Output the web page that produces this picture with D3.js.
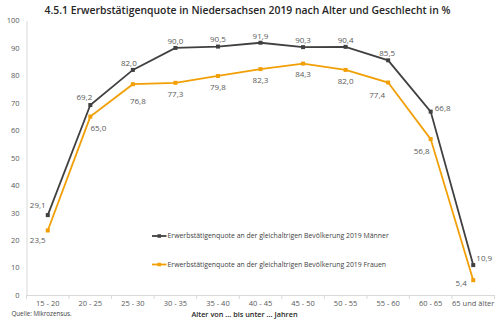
<!DOCTYPE html>
<html>
<head>
<meta charset="utf-8">
<script src="https://cdn.jsdelivr.net/npm/d3@7"></script>
<style>
  html, body { margin: 0; padding: 0; background: #fff; }
  svg { display: block; }
  text { font-family: "Open Sans", "Noto Sans", sans-serif; }
</style>
</head>
<body>
<svg id="chart" width="500" height="321"></svg>
<script>
// Altersgruppen und Erwerbstätigenquoten (in %)
const ageGroups = ["15 - 20", "20 - 25", "25 - 30", "30 - 35", "35 - 40", "40 - 45",
                   "45 - 50", "50 - 55", "55 - 60", "60 - 65", "65 und älter"];
const men   = [29.1, 69.2, 82.0, 90.0, 90.5, 91.9, 90.3, 90.4, 85.5, 66.8, 10.9];
const women = [23.5, 65.0, 76.8, 77.3, 79.8, 82.3, 84.3, 82.0, 77.4, 56.8, 5.4];
const yTicks = [0, 10, 20, 30, 40, 50, 60, 70, 80, 90, 100];
const seriesNames = [
  "Erwerbstätigenquote an der gleichaltrigen Bevölkerung 2019 Männer",
  "Erwerbstätigenquote an der gleichaltrigen Bevölkerung 2019 Frauen"
];
const title = "4.5.1 Erwerbstätigenquote in Niedersachsen 2019 nach Alter und Geschlecht in %";

const svg = d3.select("#chart");
const fmt = v => d3.format(".1f")(v).replace(".", ",");

const x = d3.scaleBand().domain(ageGroups).range([26.5, 494.5]).padding(0);
const y = d3.scaleLinear().domain([0, 100]).range([295, 20.5]);
const cx = d => x(d) + x.bandwidth() / 2;

// Titel
svg.append("text")
  .attr("x", 247.5).attr("y", 13.5)
  .attr("text-anchor", "middle")
  .attr("font-size", 10.4).attr("font-weight", 600)
  .attr("fill", "#262626")
  .text(title);

// Y-Achse
const yAxis = svg.append("g").attr("transform", "translate(26.5,0)")
  .call(d3.axisLeft(y).tickValues(yTicks).tickSize(0).tickPadding(7));
yAxis.select(".domain").attr("stroke", "#d9d9d9");
yAxis.selectAll("text").attr("font-size", 7.5).attr("fill", "#595959")
  .style("font-family", "'Open Sans', sans-serif");

// X-Achse
const xAxis = svg.append("g").attr("transform", "translate(0,295)")
  .call(d3.axisBottom(x).tickSize(0).tickPadding(6));
xAxis.select(".domain").attr("stroke", "#d9d9d9");
xAxis.selectAll("text").attr("font-size", 7.5).attr("fill", "#595959")
  .style("font-family", "'Open Sans', sans-serif");
// Trennstriche zwischen den Kategorien
const bounds = ageGroups.map(d => x(d)).concat([x(ageGroups[ageGroups.length - 1]) + x.bandwidth()]);
svg.append("g").selectAll("line").data(bounds).join("line")
  .attr("x1", d => d).attr("x2", d => d)
  .attr("y1", 295).attr("y2", 299)
  .attr("stroke", "#d9d9d9");

// Achsentitel und Quelle
svg.append("text")
  .attr("x", 244.5).attr("y", 316.5)
  .attr("text-anchor", "middle")
  .attr("font-size", 7.3).attr("font-weight", 600)
  .attr("fill", "#262626")
  .text("Alter von ... bis unter ... Jahren");
svg.append("text")
  .attr("x", 11.5).attr("y", 316)
  .attr("font-size", 6.2).attr("fill", "#404040")
  .text("Quelle: Mikrozensus.");

// Linien
const series = [
  { name: seriesNames[0], values: men,   color: "#404040" },
  { name: seriesNames[1], values: women, color: "#f29f05" }
];
const line = d3.line().x((d, i) => cx(ageGroups[i])).y(d => y(d));

series.forEach(s => {
  svg.append("path").datum(s.values)
    .attr("d", line).attr("fill", "none")
    .attr("stroke", s.color).attr("stroke-width", 1.8);
  svg.append("g").selectAll("rect").data(s.values).join("rect")
    .attr("x", (d, i) => cx(ageGroups[i]) - 2)
    .attr("y", d => y(d) - 2)
    .attr("width", 4).attr("height", 4)
    .attr("fill", s.color);
});

// Datenbeschriftungen: Versatz je Punkt (dx, dy) relativ zum Marker
const menOff = [[-10, -10], [-6, -8], [-4, -7], [0, -7], [0, -7], [0, -7], [0, -7], [0, -7], [-1, -7], [12, -3], [11, -7]];
const womenOff = [[-10, 10], [8, 12], [5, 17], [0, 11], [0, 11], [0, 11], [0, 11], [0, 11], [-11, 13], [-9, 12], [-12, 3]];

function labels(values, off) {
  svg.append("g").selectAll("text").data(values).join("text")
    .attr("x", (d, i) => cx(ageGroups[i]) + off[i][0])
    .attr("y", (d, i) => y(d) + off[i][1])
    .attr("dy", "0.35em")
    .attr("text-anchor", "middle")
    .attr("font-size", 8).attr("fill", "#595959")
    .text(fmt);
}
labels(men, menOff);
labels(women, womenOff);

// Legende
const legend = svg.append("g");
series.forEach((s, i) => {
  const ly = 236 + i * 28.5;
  legend.append("line")
    .attr("x1", 152).attr("x2", 166.5).attr("y1", ly).attr("y2", ly)
    .attr("stroke", s.color).attr("stroke-width", 1.8);
  legend.append("rect")
    .attr("x", 157.5).attr("y", ly - 1.75).attr("width", 3.5).attr("height", 3.5)
    .attr("fill", s.color);
  legend.append("text")
    .attr("x", 167.5).attr("y", ly).attr("dy", "0.35em")
    .attr("font-size", 6.9).attr("fill", "#404040")
    .text(s.name);
});
</script>
</body>
</html>
